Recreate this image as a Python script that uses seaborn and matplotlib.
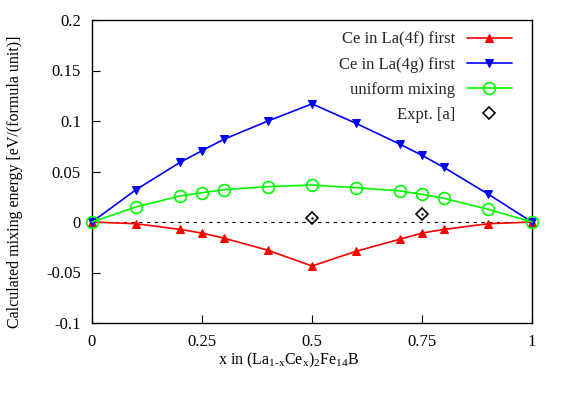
import matplotlib
matplotlib.use("Agg")
import matplotlib.pyplot as plt
import seaborn as sns
import numpy as np

sns.set_theme(style="white")
plt.rcParams['font.family'] = ['Liberation Serif', 'DejaVu Serif']
plt.rcParams['mathtext.fontset'] = 'custom'
plt.rcParams['mathtext.rm'] = 'Liberation Serif'
plt.rcParams['mathtext.it'] = 'Liberation Serif'

x = [0, 0.1, 0.2, 0.25, 0.3, 0.4, 0.5, 0.6, 0.7, 0.75, 0.8, 0.9, 1.0]
ce_4f = [0, -0.0017, -0.0073, -0.011, -0.016, -0.028, -0.0436, -0.029, -0.017, -0.011, -0.0073, -0.0017, 0]
ce_4g = [0, 0.032, 0.059, 0.0706, 0.082, 0.100, 0.117, 0.0977, 0.077, 0.066, 0.054, 0.0277, 0]
uniform = [0, 0.015, 0.0257, 0.029, 0.032, 0.035, 0.0366, 0.034, 0.0307, 0.0274, 0.0234, 0.0126, 0]
expt_x = [0.5, 0.75]
expt_y = [0.0043, 0.0082]

xticks = [0, 0.25, 0.5, 0.75, 1]
xticklabels = ["0", "0.25", "0.5", "0.75", "1"]
yticks = [-0.1, -0.05, 0, 0.05, 0.1, 0.15, 0.2]
yticklabels = ["-0.1", "-0.05", "0", "0.05", "0.1", "0.15", "0.2"]

fig = plt.figure(figsize=(5.63, 3.94), dpi=100)
ax = fig.add_axes([92/563, 1-323/394, (532-92)/563, (323-20)/394])

ax.plot([0, 1], [0, 0], color='black', lw=0.8, ls=(0, (3, 4)), zorder=1)

sns.lineplot(x=x, y=ce_4f, ax=ax, color='#ff0000', lw=1.2, marker='^', markersize=6,
             markeredgecolor='#ff0000', label='Ce in La(4f) first', zorder=3, clip_on=False)
sns.lineplot(x=x, y=ce_4g, ax=ax, color='#0000ff', lw=1.2, marker='v', markersize=6,
             markeredgecolor='#0000ff', label='Ce in La(4g) first', zorder=3, clip_on=False)
sns.lineplot(x=x, y=uniform, ax=ax, color='#00ff00', lw=1.2, marker='o', markersize=8.5,
             markerfacecolor='none', markeredgecolor='#00ff00', markeredgewidth=1.2,
             label='uniform mixing', zorder=3, clip_on=False)
ax.plot(expt_x, expt_y, ls='none', marker='D', markersize=6.5, markerfacecolor='none',
        markeredgecolor='black', markeredgewidth=1.2, label='Expt. [a]', zorder=4)
ax.plot(expt_x, expt_y, ls='none', marker='.', markersize=1.5, color='black', zorder=4)

ax.set_xlim(0, 1)
ax.set_ylim(-0.1, 0.2)
ax.set_xticks(xticks)
ax.set_xticklabels(xticklabels)
ax.set_yticks(yticks)
ax.set_yticklabels(yticklabels)
ax.tick_params(axis='both', direction='in', length=6, width=0.8, labelsize=12, colors='black',
               bottom=True, left=True, top=False, right=False)
ax.tick_params(axis='y', pad=8)
ax.tick_params(axis='x', pad=8)
for s in ax.spines.values():
    s.set_color('black')
    s.set_linewidth(1.0)
ax.set_xlabel('')
ax.set_ylabel('')

fig.text(289/563, 1 - 360/394, r'x in (La$_{\rm 1\text{-}x}$Ce$_{\rm x}$)$_2$Fe$_{14}$B',
         fontsize=11.5, color='black', ha='center', va='center')
fig.text(15/563, 1 - 182/394, 'Calculated mixing energy [eV/(formula unit)]',
         fontsize=11.5, color='black', rotation=90, rotation_mode='anchor',
         ha='center', va='center')

leg = ax.legend(loc='upper right', bbox_to_anchor=(1 - 13/440, 1 - 5/303), borderaxespad=0,
                markerfirst=False, frameon=False, fontsize=12,
                handlelength=2.75, labelspacing=0.55, handletextpad=0.7)

fig.savefig('out.png', dpi=100)
